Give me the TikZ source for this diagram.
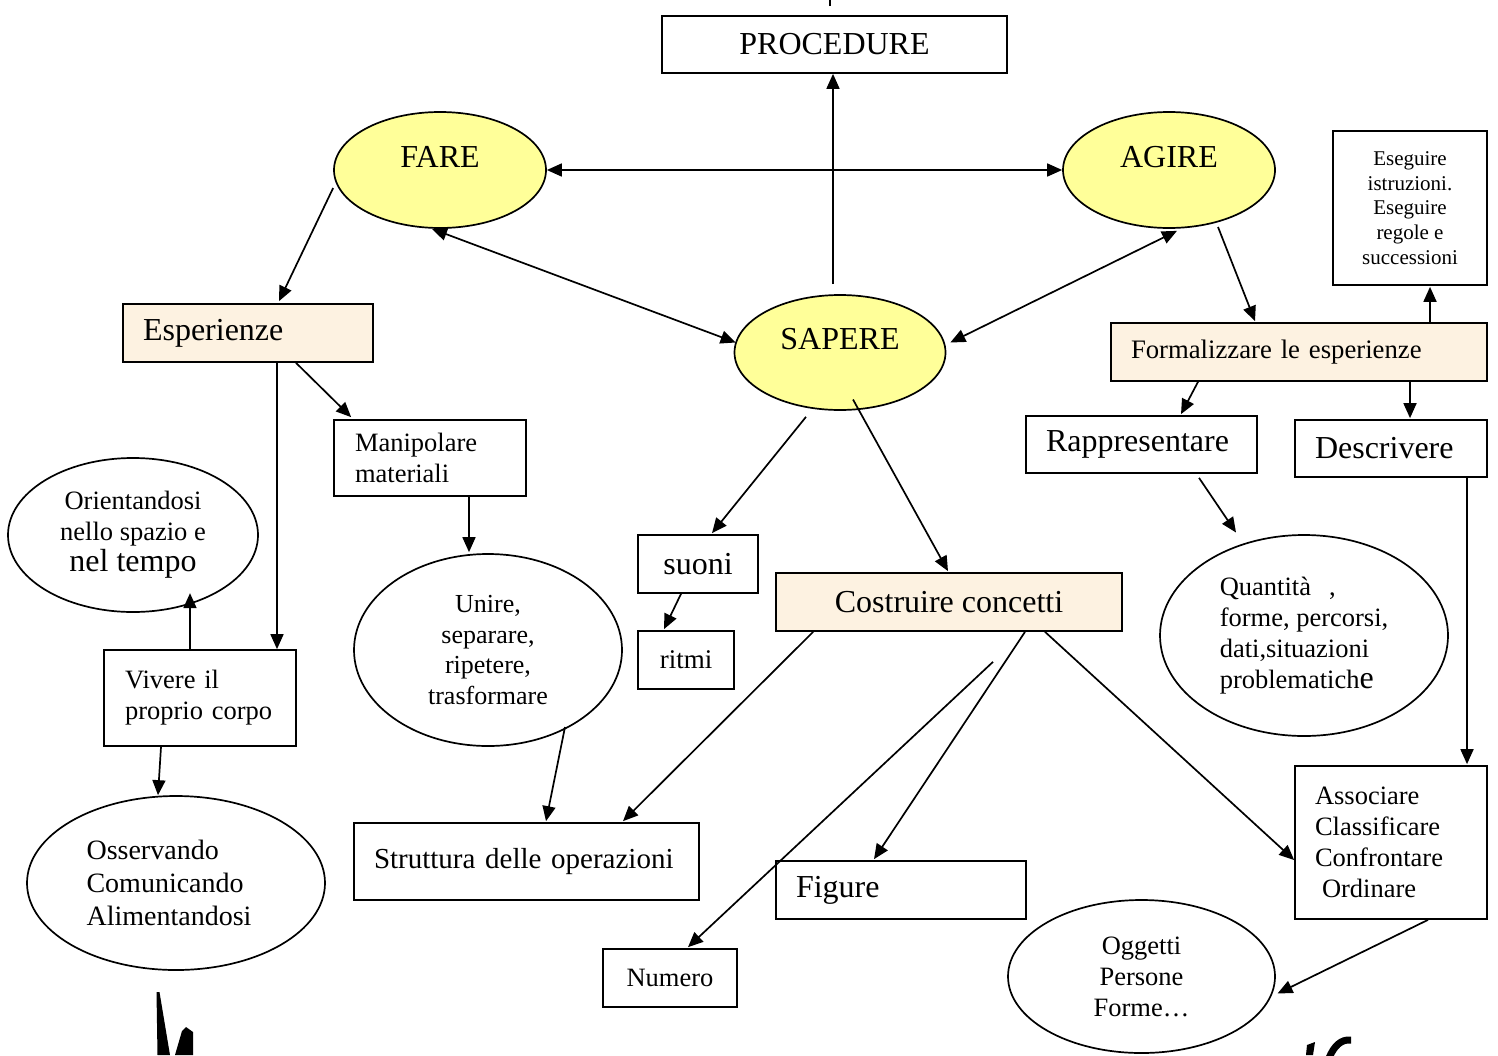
\documentclass[tikz,border=0pt]{standalone}
\usepackage{fontspec}
\setmainfont{Liberation Serif}
\usetikzlibrary{shapes.geometric,arrows.meta,calc}
\definecolor{yel}{HTML}{FFFF99}
\definecolor{cream}{HTML}{FDF2E1}
\newcommand{\fsA}{\fontsize{26.5}{31}\selectfont}
\newcommand{\fsB}{\fontsize{32}{34}\selectfont}
\newcommand{\fsC}{\fontsize{21}{24.75}\selectfont}
\newcommand{\fsD}{\fontsize{28}{33}\selectfont}
\begin{document}
\begin{tikzpicture}[x=1pt,y=-1pt,
  bx/.style={draw, line width=1.7pt, rectangle, inner sep=0pt},
  lbx/.style={bx, inner xsep=20pt, align=left},
  ell/.style={draw, line width=1.7pt, ellipse, inner sep=0pt, align=center},
  yell/.style={ell, fill=yel},
  arr/.style={line width=1.7pt, -{Triangle[length=15pt,width=13pt]}},
  darr/.style={line width=1.7pt, {Triangle[length=15pt,width=13pt]}-{Triangle[length=15pt,width=13pt]}}]
\useasboundingbox (0,0) rectangle (1498,1055);
\fill[white] (0,0) rectangle (1498,1055);

% boxes
\node[bx, minimum width=345, minimum height=57, font=\fsB] (proc) at (834.5,44.5) {PROCEDURE};
\node[lbx, fill=cream, text width=210, minimum height=58, font=\fsB] (esp) at (248,333) {Esperienze};
\node[bx, inner xsep=21pt, align=left, text width=150, minimum height=76, font=\fsA] (manip) at (430,458) {Manipolare\\materiali};
\node[bx, inner xsep=21pt, align=left, text width=150, minimum height=96, font=\fsA] (viv) at (200,698) {Vivere il\\proprio corpo};
\node[lbx, text width=305, minimum height=77, font=\fontsize{29}{33}\selectfont] (strut) at (526.5,861.5) {Struttura delle operazioni};
\node[lbx, text width=210, minimum height=58, font=\fsB] (fig) at (901,890) {Figure};
\node[bx, minimum width=134, minimum height=58, font=\fsA] (num) at (670,978) {Numero};
\node[bx, minimum width=120, minimum height=58, font=\fsB] (suoni) at (698,564) {suoni};
\node[bx, minimum width=96, minimum height=58, font=\fontsize{27}{30}\selectfont] (ritmi) at (686,660) {ritmi};
\node[bx, fill=cream, minimum width=346, minimum height=58, font=\fsB] (cost) at (949,602) {Costruire concetti};
\node[lbx, fill=cream, text width=336, minimum height=58, font=\fontsize{26.7}{31}\selectfont] (form) at (1299,352) {Formalizzare le esperienze};
\node[bx, minimum width=154, minimum height=154, align=center, font=\fsC] (eseg) at (1410,208) {Eseguire\\istruzioni.\\Eseguire\\regole e\\successioni};
\node[lbx, text width=191, minimum height=57, font=\fsB] (rappr) at (1141.5,444.5) {Rappresentare};
\node[lbx, text width=152, minimum height=57, font=\fsB] (descr) at (1391,448.5) {Descrivere};
\node[lbx, text width=152, minimum height=153, font=\fsA] (assoc) at (1391,842.5) {Associare\\Classificare\\Confrontare\\\hspace*{7pt}Ordinare};

% ellipses
\node[yell, minimum width=212, minimum height=116, label={[name=fareL, font=\fsB, yshift=13pt]center:FARE}] (fare) at (440,170) {};
\node[yell, minimum width=212, minimum height=116, label={[name=agireL, font=\fsB, yshift=13pt]center:AGIRE}] (agire) at (1169,170) {};
\node[yell, minimum width=211, minimum height=115, label={[name=sapereL, font=\fsB, yshift=13pt]center:SAPERE}] (sapere) at (840,352.5) {};
\node[ell, minimum width=250, minimum height=154, font=\fsA] (orient) at (133,535) {Orientandosi\\nello spazio e\\{\fsB nel tempo}};
\node[ell, minimum width=298, minimum height=174, font=\fsD, align=left] (osserv) at (176,883) {Osservando\\Comunicando\\Alimentandosi\hspace*{14pt}};
\node[ell, minimum width=268, minimum height=192, font=\fontsize{26}{30.7}\selectfont] (unire) at (488,650) {Unire,\\separare,\\ripetere,\\trasformare};
\node[ell, minimum width=288, minimum height=201, font=\fsA, align=left] (quant) at (1304,635.5) {Quantità\hspace{18pt},\\forme, percorsi,\\dati,situazioni\\problematich{\fsB e}};
\node[ell, minimum width=267, minimum height=153, font=\fsA] (ogg) at (1141.5,976.5) {Oggetti\\Persone\\Forme…};

% connectors
\coordinate (topend) at ($(proc.north)+(-4.5,-16)$);
\draw[line width=1.7pt] ($(proc.north)+(-4.5,-9)$) -- (topend);
\draw[arr] ($(sapere.north)+(-7,-10)$) -- ($(proc.south)+(-1.5,0)$);
\draw[darr] (fare.east) -- (agire.west);
\draw[darr] ($(fare.south)+(-8,0)$) -- ($(sapere.west)+(2,-10)$);
\draw[darr] ($(agire.south)+(8,2)$) -- ($(sapere.east)+(4,-10)$);
\draw[arr] ($(fare.west)+(0,18)$) -- ($(esp.north)+(31,-2)$);
\draw[arr] ($(esp.south)+(48,0)$) -- ($(manip.north west)+(18,-2)$);
\draw[arr] ($(esp.south)+(29,0)$) -- ($(viv.north)+(77,0)$);
\draw[arr] ($(viv.north)+(-10,0)$) -- ($(viv.north)+(-10,-56)$);
\draw[arr] ($(viv.south)+(-39,0)$) -- ($(osserv.north)+(-18,0)$);
\draw[arr] ($(manip.south)+(39,0)$) -- ($(unire.north)+(-19,-1)$);
\draw[arr] ($(unire.center)+(77,77)$) -- ($(strut.north)+(19.5,-1)$);
\draw[arr] ($(sapere.south)+(-34,6)$) -- ($(suoni.north)+(14,-1)$);
\draw[arr] ($(suoni.south)+(-17,0)$) -- ($(ritmi.north)+(-22,-1)$);
\draw[arr] ($(sapere.center)+(13,47)$) -- ($(cost.north)+(-1,-1)$);
\draw[arr] ($(cost.south west)+(38,0)$) -- ($(strut.north)+(96.5,-1)$);
\draw[arr] ($(cost.south)+(44,30)$) -- ($(num.north)+(18,-1)$);
\draw[arr] ($(cost.south)+(76,0)$) -- ($(fig.north)+(-27,-1)$);
\draw[arr] ($(cost.south)+(96,0)$) -- ($(assoc.west)+(0,17.5)$);
\draw[arr] ($(assoc.south)+(37,0)$) -- ($(ogg.center)+(136,17)$);
\draw[arr] ($(agire.center)+(49,57)$) -- ($(form.north)+(-44,-1)$);
\draw[arr] ($(form.north)+(131,0)$) -- ($(eseg.south)+(20,1)$);
\draw[arr] ($(form.south)+(-101,0)$) -- ($(rappr.north)+(39.5,-1)$);
\draw[arr] ($(form.south)+(111,0)$) -- ($(descr.north)+(19,-1)$);
\draw[arr] ($(rappr.south)+(57.5,4)$) -- ($(quant.center)+(-68,-103)$);
\draw[arr] ($(descr.south)+(76,0)$) -- ($(assoc.north)+(76,-1)$);

% cut-off lettering at the bottom edge
\fill (156.5,992) -- (159.5,992) -- (170,1055) -- (157.5,1055) -- cycle;
\fill (175,1055) -- (182,1031) -- (186,1027) -- (193,1032) -- (193,1055) -- cycle;
\fill (1307,1045) -- (1315,1042) -- (1313,1055) -- (1306,1055) -- cycle;
\draw[line width=7pt] (1329,1058) .. controls (1334,1046) and (1341,1039) .. (1351,1040);
\end{tikzpicture}
\end{document}
